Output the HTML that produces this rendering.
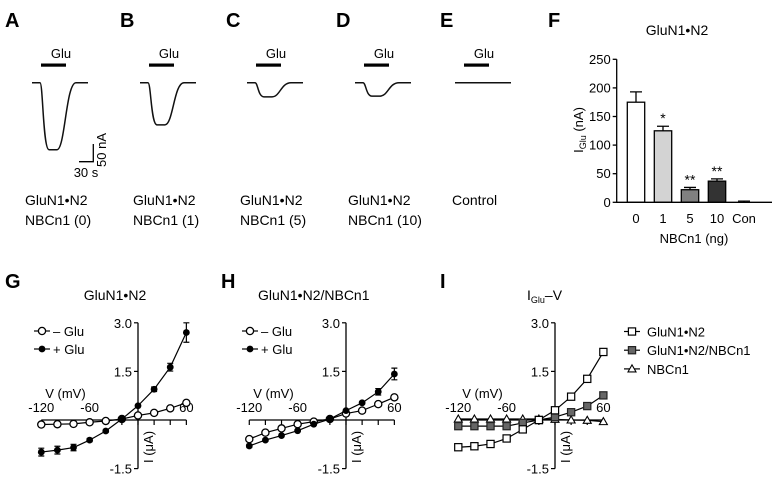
<!DOCTYPE html>
<html><head><meta charset="utf-8"><style>
html,body{margin:0;padding:0;background:#fff}
svg{display:block;font-family:"Liberation Sans",Arial,sans-serif}
</style></head><body>
<svg id="fig" width="773" height="482" viewBox="0 0 773 482">
<g id="top" fill="#000">
<text x="5" y="27" font-size="20" font-weight="bold">A</text>
<text x="120" y="27" font-size="20" font-weight="bold">B</text>
<text x="226" y="27" font-size="20" font-weight="bold">C</text>
<text x="336" y="27" font-size="20" font-weight="bold">D</text>
<text x="440" y="27" font-size="20" font-weight="bold">E</text>
<text x="548" y="27" font-size="20" font-weight="bold">F</text>
<text x="5" y="288" font-size="20" font-weight="bold">G</text>
<text x="221" y="288" font-size="20" font-weight="bold">H</text>
<text x="440" y="288" font-size="20" font-weight="bold">I</text>
</g>
<g id="traces"></g>
<g id="barchart"></g>
<g id="ivG"></g><g id="ivH"></g><g id="ivI"></g>
</svg>
<script>
// ---- Traces A-E (peak current amplitudes in nA) ----
const traceNames = ['a','b','c','d','e'];
const traceAmps = [175, 110, 37, 35, 0];
const traceX0 = [32, 140, 247, 355, 455];
const traceCond = [['GluN1\u2022N2','NBCn1 (0)'],['GluN1\u2022N2','NBCn1 (1)'],['GluN1\u2022N2','NBCn1 (5)'],['GluN1\u2022N2','NBCn1 (10)'],['Control','']];
// ---- Bar chart F ----
const barCats = ['0','1','5','10','Con'];
const barVals = [175, 125, 22, 37, 0];
const barErrs = [18, 8, 4, 4, 2];
const barStars = ['', '*', '**', '**', ''];
const barTicks = [0, 50, 100, 150, 200, 250];
// ---- I-V data ----
const ivV = [-120, -100, -80, -60, -40, -20, 0, 20, 40, 60];
const gMinus = [-0.14, -0.13, -0.12, -0.07, -0.03, 0.03, 0.14, 0.22, 0.36, 0.53];
const gPlus = [-0.99, -0.93, -0.85, -0.62, -0.34, 0.03, 0.44, 0.95, 1.63, 2.7];
const gPlusErr = [0.12, 0.12, 0.1, 0.05, 0.03, 0.02, 0.03, 0.07, 0.12, 0.3];
const hMinus = [-0.59, -0.39, -0.26, -0.13, -0.05, 0.03, 0.2, 0.29, 0.49, 0.7];
const hPlus = [-0.8, -0.62, -0.48, -0.33, -0.13, 0.03, 0.29, 0.53, 0.87, 1.42];
const hPlusErr = [0.05, 0.04, 0.03, 0.03, 0.02, 0.02, 0.03, 0.04, 0.1, 0.18];
const iN2 = [-0.84, -0.81, -0.74, -0.57, -0.29, 0.0, 0.3, 0.72, 1.27, 2.1];
const iN2NB = [-0.19, -0.19, -0.19, -0.19, -0.09, 0.0, 0.09, 0.24, 0.43, 0.76];
const iNB = [0.03, 0.03, 0.03, 0.03, 0.03, 0.03, 0.02, 0.0, -0.01, -0.05];
const yTicksIV = [3.0, 1.5, -1.5];
const xTickLabelsIV = [-120, -60, 60];

const NS = 'http://www.w3.org/2000/svg';
function mk(parent, tag, attrs, text){
  const e = document.createElementNS(NS, tag);
  for (const k in attrs) e.setAttribute(k, attrs[k]);
  if (text !== undefined) e.textContent = text;
  parent.appendChild(e); return e;
}

// Traces
const tg = document.getElementById('traces');
const ampScale = 67/175, baseY = 82.7;
traceAmps.forEach((a, i) => {
  const x0 = traceX0[i];
  const g = mk(tg, 'g', {});
  
  
  const t = mk(g, 'text', {x: x0 + 29, y: 58, 'font-size': 13, 'text-anchor': 'middle'}, 'Glu');
  
  
  const b = mk(g, 'rect', {x: x0 + 9, y: 63.5, width: 25, height: 3.2, fill: '#000'});
  
  
  const by = baseY + a * ampScale;
  const d = `M${x0},${baseY} L${x0+8},${baseY} C${x0+11},${baseY} ${x0+11},${by} ${x0+17},${by} L${x0+25},${by} C${x0+33},${by} ${x0+34},${baseY} ${x0+44},${baseY} L${x0+56},${baseY}`;
  const p = mk(g, 'path', {d: d, fill: 'none', stroke: '#111', 'stroke-width': 1.5});
  
  
  const l1 = mk(g, 'text', {x: i === 4 ? x0 - 3 : x0 - 7, y: 205, 'font-size': 14}, traceCond[i][0]);
  
  
  if (traceCond[i][1]) {
    const l2 = mk(g, 'text', {x: x0 - 7, y: 225, 'font-size': 14}, traceCond[i][1]);
    
    
  }
});
const sb = mk(tg, 'path', {d: 'M93.3,144 L93.3,161.7 L79,161.7', fill: 'none', stroke: '#000', 'stroke-width': 1.3});


const sbt = mk(tg, 'text', {x: 86, y: 177, 'font-size': 13, 'text-anchor': 'middle'}, '30 s');


const sba = mk(tg, 'text', {x: 0, y: 0, 'font-size': 13, 'text-anchor': 'middle', transform: 'translate(106,150) rotate(-90)'}, '50 nA');



// Bar chart
const bg = document.getElementById('barchart');
const fx0 = 616.7, fy0 = 202.3, fk = 143/250;
const yF = v => fy0 - v * fk;
const xF = i => 636 + i * 27;
const barFills = ['#fff', '#d3d3d3', '#808080', '#333'];
const ft = mk(bg, 'text', {x: 677, y: 35, 'font-size': 14, 'text-anchor': 'middle'}, 'GluN1\u2022N2');


barVals.forEach((v, i) => {
  const x = xF(i);
  if (barErrs[i]) {
    const e = mk(bg, 'path', {d: `M${x},${yF(v)} L${x},${yF(v+barErrs[i])} M${x-6},${yF(v+barErrs[i])} L${x+6},${yF(v+barErrs[i])}`, stroke: '#000', 'stroke-width': 1.3, fill: 'none'});
    
    
  }
  const r = mk(bg, 'rect', {x: x - 8.7, y: yF(v), width: 17.4, height: Math.max(0, fy0 - yF(v)), fill: barFills[i] || '#fff', stroke: '#000', 'stroke-width': 1.3});
  
  
  if (barStars[i]) {
    const s = mk(bg, 'text', {x: x, y: yF(v + barErrs[i]) - 3, 'font-size': 14, 'text-anchor': 'middle'}, barStars[i]);
    
    
  }
  const tl = mk(bg, 'text', {x: x, y: 223, 'font-size': 13, 'text-anchor': 'middle'}, barCats[i]);
  
  
});
const fax = mk(bg, 'path', {d: `M${fx0},${yF(250)} L${fx0},${fy0} L772,${fy0}`, fill: 'none', stroke: '#000', 'stroke-width': 1.3});


barTicks.forEach(v => {
  mk(bg, 'line', {x1: fx0 - 4, x2: fx0, y1: yF(v), y2: yF(v), stroke: '#000', 'stroke-width': 1.3});
  const t = mk(bg, 'text', {x: fx0 - 6, y: yF(v) + 4.5, 'font-size': 13, 'text-anchor': 'end'}, String(v));
  
  
});
const fyt = mk(bg, 'text', {x: 0, y: 0, 'font-size': 13, 'text-anchor': 'middle', transform: 'translate(583,130) rotate(-90)'});


fyt.innerHTML = 'I<tspan font-size="9" dy="3">Glu</tspan><tspan dy="-3"> (nA)</tspan>';
const fxt = mk(bg, 'text', {x: 694, y: 243, 'font-size': 13, 'text-anchor': 'middle'}, 'NBCn1 (ng)');



// I-V panels
function marker(g, type, x, y) {
  let m;
  if (type === 'oc') m = mk(g, 'circle', {cx: x, cy: y, r: 3.6, fill: '#fff', stroke: '#000', 'stroke-width': 1.3});
  else if (type === 'fc') m = mk(g, 'circle', {cx: x, cy: y, r: 3.4, fill: '#000'});
  else if (type === 'os') m = mk(g, 'rect', {x: x - 3.6, y: y - 3.6, width: 7.2, height: 7.2, fill: '#fff', stroke: '#000', 'stroke-width': 1.2});
  else if (type === 'fs') m = mk(g, 'rect', {x: x - 3.6, y: y - 3.6, width: 7.2, height: 7.2, fill: '#666', stroke: '#222', 'stroke-width': 1.2});
  else m = mk(g, 'path', {d: `M${x},${y-4} L${x+4},${y+3} L${x-4},${y+3} Z`, fill: '#fff', stroke: '#000', 'stroke-width': 1.1});
  
  
}
function ivPanel(id, x0, title, series, legend) {
  const g = document.getElementById(id);
  const y0 = 420;
  const xs = v => x0 + v * 0.806;
  const ys = i => y0 - i * 32.4;
  
  
  const tt = mk(g, 'text', {x: title.x, y: 300, 'font-size': 14, 'text-anchor': title.anchor});
  
  
  tt.innerHTML = title.html;
  const ax = mk(g, 'path', {d: `M${xs(-120)},${y0} L${xs(60)},${y0} M${x0},${ys(3)} L${x0},${ys(-1.5)}`, stroke: '#000', 'stroke-width': 1.3, fill: 'none'});
  
  
  ivV.forEach(v => mk(g, 'line', {x1: xs(v), x2: xs(v), y1: y0, y2: y0 + 5, stroke: '#000', 'stroke-width': 1.2}));
  yTicksIV.forEach(t => {
    mk(g, 'line', {x1: x0 - 4, x2: x0, y1: ys(t), y2: ys(t), stroke: '#000', 'stroke-width': 1.2});
    const l = mk(g, 'text', {x: x0 - 6, y: ys(t) + 5, 'font-size': 13, 'text-anchor': 'end'}, t.toFixed(1));
    
    
  });
  xTickLabelsIV.forEach(v => {
    const l = mk(g, 'text', {x: xs(v), y: 412, 'font-size': 13, 'text-anchor': 'middle'}, String(v));
    
    
  });
  const vx = mk(g, 'text', {x: xs(-90), y: 398, 'font-size': 13, 'text-anchor': 'middle'}, 'V (mV)');
  
  
  const iy = mk(g, 'text', {x: 0, y: 0, 'font-size': 13, 'text-anchor': 'middle', transform: `translate(${x0 + 15},447) rotate(-90)`}, 'I (\u03bcA)');
  
  
  series.forEach(s => {
    const pts = ivV.map((v, k) => xs(v) + ',' + ys(s.data[k])).join(' ');
    const pl = mk(g, 'polyline', {points: pts, fill: 'none', stroke: '#000', 'stroke-width': 1.2});
    
    
    if (s.err) ivV.forEach((v, k) => {
      const x = xs(v), a = ys(s.data[k] + s.err[k]), b = ys(s.data[k] - s.err[k]);
      const e = mk(g, 'path', {d: `M${x},${a} L${x},${b} M${x-3},${a} L${x+3},${a} M${x-3},${b} L${x+3},${b}`, stroke: '#000', 'stroke-width': 1.2, fill: 'none'});
      
      
    });
    ivV.forEach((v, k) => marker(g, s.type, xs(v), ys(s.data[k])));
  });
  legend.items.forEach((it, k) => {
    const y = legend.y + k * legend.dy;
    const lg = mk(g, 'g', {});
    
    
    mk(lg, 'line', {x1: legend.x - 8, x2: legend.x + 8, y1: y, y2: y, stroke: '#000', 'stroke-width': 1.2});
    marker(lg, it.type, legend.x, y);
    mk(lg, 'text', {x: legend.x + legend.tx, y: y + 5, 'font-size': 13}, it.label);
  });
}
ivPanel('ivG', 138, {x: 115, anchor: 'middle', html: 'GluN1\u2022N2'},
  [{name: 'minus-glu', data: gMinus, type: 'oc'}, {name: 'plus-glu', data: gPlus, type: 'fc', err: gPlusErr}],
  {x: 42, y: 331, dy: 18, tx: 11, items: [{type: 'oc', label: '\u2013 Glu'}, {type: 'fc', label: '+ Glu'}]});
ivPanel('ivH', 346, {x: 258, anchor: 'start', html: 'GluN1\u2022N2/NBCn1'},
  [{name: 'minus-glu', data: hMinus, type: 'oc'}, {name: 'plus-glu', data: hPlus, type: 'fc', err: hPlusErr}],
  {x: 250, y: 331, dy: 18, tx: 11, items: [{type: 'oc', label: '\u2013 Glu'}, {type: 'fc', label: '+ Glu'}]});
ivPanel('ivI', 555, {x: 527, anchor: 'start', html: 'I<tspan font-size="9" dy="3">Glu</tspan><tspan dy="-3">\u2013V</tspan>'},
  [{name: 'nbcn1', data: iNB, type: 'tri'}, {name: 'glun1-n2-nbcn1', data: iN2NB, type: 'fs'}, {name: 'glun1-n2', data: iN2, type: 'os'}],
  {x: 632, y: 331.5, dy: 18.7, tx: 15, items: [{type: 'os', label: 'GluN1\u2022N2'}, {type: 'fs', label: 'GluN1\u2022N2/NBCn1'}, {type: 'tri', label: 'NBCn1'}]});
</script>
</body></html>
